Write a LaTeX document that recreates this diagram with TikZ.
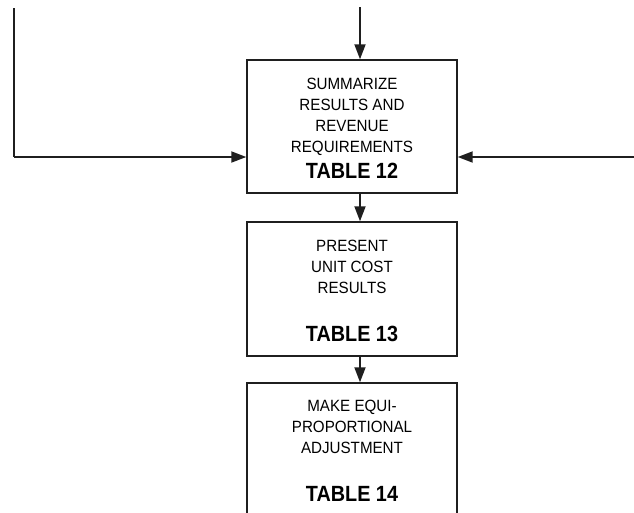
\documentclass[tikz,border=0pt]{standalone}
\usepackage{fontspec}
\usetikzlibrary{arrows.meta}
\newfontfamily\descfont[FakeStretch=0.93]{Liberation Sans}
\newfontfamily\tblfont[FakeStretch=0.9]{Liberation Sans}
\tikzset{
  procbox/.style={draw=black!88, line width=1.4pt, minimum width=210pt, inner sep=0pt},
  desc/.style={anchor=base, align=center, inner sep=0pt, font=\descfont\fontsize{16.3}{21}\selectfont},
  tbl/.style={anchor=base, inner sep=0pt, font=\tblfont\bfseries\fontsize{22}{25}\selectfont},
  conn/.style={draw=black!88, line width=1.8pt, -{Triangle[length=15pt,width=11pt]}},
  plainline/.style={draw=black!88, line width=1.8pt}
}
\begin{document}
\begin{tikzpicture}[x=1pt,y=-1pt]
\clip (0,0) rectangle (634,512);
\node[procbox, minimum height=133pt] (b1) at (352,126.5) {};
\node[procbox, minimum height=134pt] (b2) at (352,289) {};
\node[procbox, minimum height=140pt] (b3) at (352,453) {};

\node[desc] (d1) at (352,152) {SUMMARIZE\\RESULTS AND\\REVENUE\\REQUIREMENTS};
\node[tbl] (t1) at (352,178) {TABLE 12};
\node[desc] (d2) at (352,293) {PRESENT\\UNIT COST\\RESULTS};
\node[tbl] (t2) at (352,341) {TABLE 13};
\node[desc] (d3) at (352,453) {MAKE EQUI-\\PROPORTIONAL\\ADJUSTMENT};
\node[tbl] (t3) at (352,501) {TABLE 14};

\coordinate (ax) at (360,7);
\coordinate (ls) at (14,8);
\coordinate (ly) at (14,157);
\coordinate (rs) at (640,157);

\draw[conn] (ax) -- (ax |- b1.north);
\draw[conn] (ax |- b1.south) -- (ax |- b2.north);
\draw[conn] (ax |- b2.south) -- (ax |- b3.north);
\draw[plainline] (ls) -- (ly);
\draw[conn] (ly) -- (b1.west |- ly);
\draw[conn] (rs) -- (b1.east |- rs);
\end{tikzpicture}
\end{document}
